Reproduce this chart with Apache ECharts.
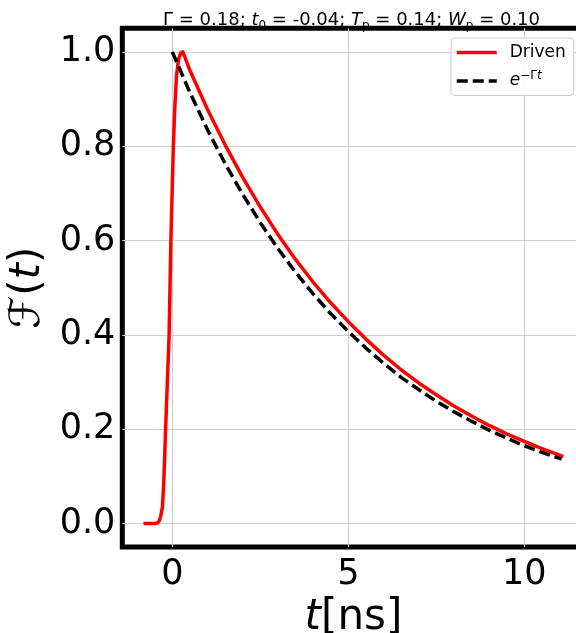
<!DOCTYPE html>
<html>
<head>
<meta charset="utf-8">
<script src="https://cdn.jsdelivr.net/npm/echarts@6/dist/echarts.min.js"></script>
<style>html,body{margin:0;padding:0;background:#fff}#c{width:576px;height:633px}</style>
</head>
<body>
<div id="c"></div>
<script>
// Driven curve
const drivenT = [-0.82, -0.5, -0.42, -0.37, -0.33, -0.28, -0.24, -0.19, -0.14, -0.09, -0.065, -0.04, -0.005, 0.03, 0.07, 0.12, 0.18, 0.24, 0.30,
  0.5, 1, 1.5, 2, 2.5, 3, 3.5, 4, 4.5, 5, 5.5, 6, 6.5, 7, 7.5, 8, 8.5, 9, 9.5, 10, 10.5, 11, 11.11];
const drivenF = [0, 0, 0.001, 0.006, 0.015, 0.035, 0.09, 0.2, 0.3, 0.4, 0.5, 0.6, 0.7, 0.8, 0.88, 0.95, 0.985, 0.998, 1.0,
  0.961, 0.878, 0.803, 0.734, 0.671, 0.613, 0.560, 0.512, 0.468, 0.428, 0.391, 0.357, 0.326, 0.298, 0.273, 0.249, 0.228, 0.208, 0.190, 0.174, 0.159, 0.145, 0.142];
// Reference exponential e^{-Γt}
const expT = [0, 0.5, 1, 1.5, 2, 2.5, 3, 3.5, 4, 4.5, 5, 5.5, 6, 6.5, 7, 7.5, 8, 8.5, 9, 9.5, 10, 10.5, 11, 11.06];
const expF = [1.0, 0.914, 0.835, 0.763, 0.698, 0.638, 0.583, 0.533, 0.487, 0.445, 0.407, 0.372, 0.340, 0.310, 0.284, 0.259, 0.237, 0.217, 0.198, 0.181, 0.165, 0.151, 0.138, 0.137];
// Tick values
const xTicks = [0, 5, 10];
const yTicks = [0, 0.2, 0.4, 0.6, 0.8, 1.0];

const FONT = 'DejaVu Sans';
const zip = (a, b) => a.map((v, i) => [v, b[i]]);

const chart = echarts.init(document.getElementById('c'), null, {renderer: 'canvas'});
chart.setOption({
  animation: false,
  backgroundColor: '#fff',
  title: {
    text: 'Γ = 0.18; {i|t}{sub|0} = -0.04; {i|T}{sub|p} = 0.14; {i|W}{sub|p} = 0.10',
    left: 158, top: 3,
    textStyle: {
      fontFamily: FONT, fontSize: 18, fontWeight: 'normal', color: '#000', lineHeight: 24,
      rich: {
        i: {fontFamily: FONT, fontSize: 18, fontStyle: 'italic', color: '#000', lineHeight: 24},
        sub: {fontFamily: FONT, fontSize: 12, color: '#000', verticalAlign: 'bottom', lineHeight: 12}
      }
    }
  },
  legend: {
    orient: 'vertical',
    left: 451, top: 38,
    padding: [6, 8, 6, 4],
    itemWidth: 40, itemHeight: 20, itemGap: 9,
    backgroundColor: 'rgba(255,255,255,0.85)',
    borderColor: '#cccccc', borderWidth: 1, borderRadius: 4,
    itemStyle: {opacity: 0},
    lineStyle: {width: 3.5},
    data: ['Driven', 'exp'],
    formatter: function (name) { return name === 'Driven' ? 'Driven' : '{i|e}{sup|−Γ}{supi|t}'; },
    textStyle: {
      fontFamily: FONT, fontSize: 17, color: '#000', padding: [0, 0, 0, 8],
      rich: {
        i: {fontFamily: FONT, fontSize: 17, fontStyle: 'italic', color: '#000', lineHeight: 22},
        sup: {fontFamily: FONT, fontSize: 12, color: '#000', verticalAlign: 'top', lineHeight: 12},
        supi: {fontFamily: FONT, fontSize: 12, fontStyle: 'italic', color: '#000', verticalAlign: 'top', lineHeight: 12}
      }
    }
  },
  grid: {
    left: 122.3, top: 28.3, width: 462.2, height: 518.8,
    show: true, borderColor: '#000', borderWidth: 5, backgroundColor: 'transparent',
    containLabel: false, outerBoundsMode: 'none'
  },
  xAxis: {
    type: 'value', min: -1.42, max: 11.71,
    axisLine: {show: false},
    axisTick: {show: false, customValues: xTicks},
    splitLine: {show: true, lineStyle: {color: '#cfcfcf', width: 1.2}},
    axisLabel: {customValues: xTicks, fontFamily: FONT, fontSize: 35, color: '#000', margin: 10,
      formatter: v => String(v)},
    name: '{i|t}[ns]', nameLocation: 'middle', nameGap: 44,
    nameTextStyle: {fontFamily: FONT, fontSize: 42, color: '#000', lineHeight: 42,
      rich: {i: {fontFamily: FONT, fontSize: 42, fontStyle: 'italic', color: '#000', lineHeight: 42}}}
  },
  yAxis: {
    type: 'value', min: -0.05, max: 1.05,
    axisLine: {show: false},
    axisTick: {show: false, customValues: yTicks},
    splitLine: {show: true, lineStyle: {color: '#cfcfcf', width: 1.2}},
    axisLabel: {customValues: yTicks, fontFamily: FONT, fontSize: 35, color: '#000', margin: 7,
      formatter: v => v.toFixed(1)},
    name: 'ℱ({i|t})', nameLocation: 'middle', nameGap: 57, nameRotate: 90,
    nameTextStyle: {fontFamily: FONT, fontSize: 42, color: '#000', lineHeight: 42,
      rich: {i: {fontFamily: FONT, fontSize: 42, fontStyle: 'italic', color: '#000', lineHeight: 42}}}
  },
  series: [
    {
      name: 'Driven', type: 'line', data: zip(drivenT, drivenF),
      showSymbol: false, symbol: 'none', smooth: false,
      lineStyle: {color: '#ff0000', width: 3.5, join: 'round'}, itemStyle: {color: '#ff0000'}, z: 3
    },
    {
      name: 'exp', type: 'line', data: zip(expT, expF),
      showSymbol: false, symbol: 'none', smooth: false,
      lineStyle: {color: '#000', width: 3.5, type: [11, 5]}, itemStyle: {color: '#000'}, z: 4
    }
  ]
});
</script>
</body>
</html>
